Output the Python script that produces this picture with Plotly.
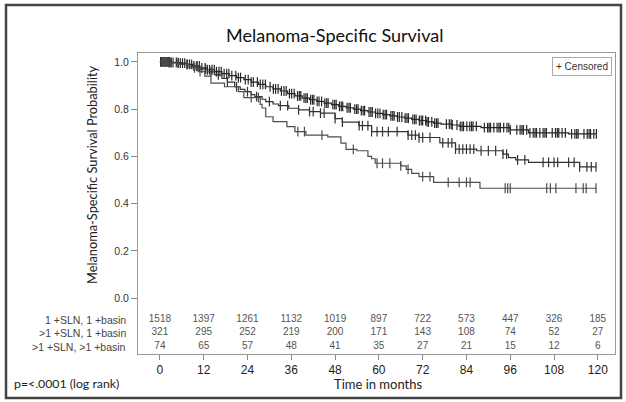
import plotly.graph_objects as go

# ---- data -------------------------------------------------------------
series_names = ["1 +SLN, 1 +basin", ">1 +SLN, 1 +basin", ">1 +SLN, >1 +basin"]

t1 = [0, 3, 5, 7, 9, 11, 13, 15, 17, 19, 21, 23, 25, 27, 29, 31, 33, 35, 37, 39, 41, 43, 45, 47, 49,
      51, 53, 55, 57, 59, 61, 63, 65, 67, 69, 71, 73, 75, 77, 80, 82, 88, 96, 101, 112, 119.6]
s1 = [1.0, 0.998, 0.995, 0.99, 0.983, 0.975, 0.967, 0.959, 0.951, 0.942, 0.934, 0.925, 0.915, 0.905,
      0.895, 0.886, 0.877, 0.866, 0.856, 0.847, 0.84, 0.833, 0.826, 0.819, 0.812, 0.806, 0.8, 0.794,
      0.788, 0.782, 0.777, 0.772, 0.767, 0.762, 0.757, 0.752, 0.746, 0.741, 0.737, 0.733, 0.727, 0.722,
      0.712, 0.7, 0.695, 0.695]

t2 = [0, 3, 6, 8, 10.5, 13, 15, 17, 18.5, 20.5, 22, 23.3, 25, 26, 28, 29, 31, 32.5, 35.3, 38, 41, 44,
      48, 50, 54.5, 58, 68, 71, 76.7, 81, 86.8, 94, 95.5, 97.5, 101, 115, 119.6]
s2 = [1.0, 0.997, 0.99, 0.982, 0.97, 0.958, 0.945, 0.93, 0.915, 0.895, 0.884, 0.874, 0.862, 0.853,
      0.842, 0.832, 0.822, 0.815, 0.804, 0.797, 0.79, 0.783, 0.76, 0.745, 0.73, 0.705, 0.69, 0.68,
      0.657, 0.631, 0.624, 0.61, 0.595, 0.585, 0.575, 0.556, 0.556]

t3 = [0, 2, 5, 8, 10.5, 12.3, 14, 17.7, 21.5, 23, 27.5, 28, 29, 31, 34.8, 37, 40, 46, 49.6, 51, 54,
      57, 58, 59, 66, 67.5, 69, 71, 75, 87.7, 119.6]
s3 = [1.0, 0.996, 0.99, 0.975, 0.959, 0.94, 0.91, 0.895, 0.874, 0.849, 0.82, 0.805, 0.768, 0.747,
      0.726, 0.705, 0.69, 0.683, 0.656, 0.63, 0.624, 0.6, 0.59, 0.571, 0.56, 0.545, 0.528, 0.514,
      0.49, 0.465, 0.465]

c1 = [0.2, 0.5, 0.8, 1.1, 1.4, 1.7, 2.0, 2.3, 2.6, 3.1, 3.6, 4.5, 5.0, 5.6, 6.2, 6.8, 7.4, 8.1, 8.7,
      9.3, 10.2, 10.8, 11.5, 12.4, 13.0, 13.6, 14.3, 14.9, 15.5, 16.2, 16.8, 17.6, 18.3, 18.9, 19.7,
      20.8, 21.5, 22.1, 23.4, 24.2, 25.0, 25.6, 26.7, 27.5, 28.2, 28.9, 30.2, 31.1, 31.7, 32.4, 33.3,
      34.0, 34.6, 35.5, 36.1, 36.8, 37.7, 38.2, 38.6, 39.5, 40.0, 40.4, 41.3, 41.8, 42.2, 43.1, 43.6,
      44.3, 45.2, 45.7, 46.1, 47.4, 47.9, 48.3, 49.2, 49.7, 50.1, 51.3, 51.8, 52.2, 53.4, 53.9, 54.3,
      55.2, 55.7, 56.1, 57.3, 57.8, 58.2, 59.1, 59.7, 60.3, 61.2, 61.7, 62.1, 63.3, 63.8, 64.2, 65.1,
      65.6, 66.3, 67.2, 67.7, 68.1, 69.3, 69.8, 70.2, 71.1, 71.6, 72.0, 72.8, 73.2, 73.6, 74.5, 75.3,
      75.8, 76.2, 78.5, 79.3, 79.8, 80.1, 81.4, 82.3, 82.8, 83.2, 84.1, 84.9, 85.4, 85.8, 86.7, 88.9,
      89.8, 90.2, 90.6, 91.5, 92.4, 92.9, 93.3, 94.2, 95.1, 95.6, 96.0, 97.8, 98.7, 99.2, 99.6, 100.5,
      101.4, 102.3, 102.8, 103.2, 104.1, 105.0, 105.5, 105.9, 107.5, 108.4, 108.9, 109.3, 110.2,
      111.1, 112.8, 113.7, 114.2, 114.6, 116.2, 117.1, 117.6, 118.0, 118.9, 119.6]
c2 = [0.5, 1.5, 3, 5, 7.5, 10, 12.5, 14, 16, 18.5, 21, 24, 26.5, 30, 33, 35, 38, 41, 42, 44, 45, 48,
      50, 54.6, 55.5, 57, 58, 59.5, 61, 62.6, 65, 68, 69, 70, 71, 72, 74, 77.5, 79, 80, 81, 82, 83, 84,
      85, 86, 88, 90, 92, 94, 95, 98, 100, 105, 106.5, 108, 109, 112, 113.5, 115, 117, 118.2, 119.5]
c3 = [0.5, 1.5, 2.5, 9.5, 11, 25, 27, 37.8, 39.6, 44.4, 53, 59.5, 61, 63, 66, 68, 72, 74, 79, 82, 84,
      85, 94.6, 95.3, 96, 106, 107, 108.5, 114, 116, 116.8, 119.5]

risk_times = [0, 12, 24, 36, 48, 60, 72, 84, 96, 108, 120]
risk1 = [1518, 1397, 1261, 1132, 1019, 897, 722, 573, 447, 326, 185]
risk2 = [321, 295, 252, 219, 200, 171, 143, 108, 74, 52, 27]
risk3 = [74, 65, 57, 48, 41, 35, 27, 21, 15, 12, 6]

y_ticks = [0.0, 0.2, 0.4, 0.6, 0.8, 1.0]
y_tick_labels = ["0.0", "0.2", "0.4", "0.6", "0.8", "1.0"]
x_ticks = risk_times
risk_rows_y = [-0.092, -0.148, -0.206]


def step_value(times, survs, t):
    v = survs[0]
    for ti, si in zip(times, survs):
        if ti <= t:
            v = si
    return v


fig = go.Figure()
curves = [(t1, s1, c1, "#262626"), (t2, s2, c2, "#333333"), (t3, s3, c3, "#4d4d4d")]
for (tt, ss, cc, col), name in zip(curves, series_names):
    fig.add_trace(go.Scatter(x=tt, y=ss, mode="lines", line=dict(shape="hv", color=col, width=1.2),
                             name=name, showlegend=False, hoverinfo="skip"))
    fig.add_trace(go.Scatter(x=cc, y=[step_value(tt, ss, c) for c in cc], mode="markers",
                             marker=dict(symbol="line-ns", size=7, line=dict(color=col, width=1.2)),
                             showlegend=False, hoverinfo="skip"))

for yy, row, name in zip(risk_rows_y, [risk1, risk2, risk3], series_names):
    fig.add_trace(go.Scatter(x=risk_times, y=[yy] * len(risk_times), mode="text",
                             text=[str(v) for v in row], textposition="middle center",
                             textfont=dict(family="Liberation Sans", size=10, color="#555555"),
                             showlegend=False, hoverinfo="skip"))
    fig.add_annotation(xref="paper", yref="y", x=-0.021, y=yy, text=name, showarrow=False,
                       xanchor="right", yanchor="middle",
                       font=dict(family="Liberation Sans", size=10.5, color="#444444"))

fig.update_layout(
    width=626, height=402,
    margin=dict(l=138, r=11, t=53, b=48),
    paper_bgcolor="white", plot_bgcolor="white",
    xaxis=dict(range=[-6, 124.7], tickvals=x_ticks, ticks="outside", ticklen=5, tickcolor="#888",
               showgrid=False, zeroline=False, showline=True, linecolor="#999", mirror=True,
               tickfont=dict(family="Liberation Sans", size=12, color="#222")),
    yaxis=dict(range=[-0.237, 1.038], tickvals=y_ticks, ticktext=y_tick_labels, ticks="outside",
               ticklen=6, tickcolor="#888", showgrid=False, zeroline=False, showline=True,
               linecolor="#999", mirror=True,
               tickfont=dict(family="Liberation Sans", size=10.5, color="#333")),
)

fig.add_annotation(xref="paper", yref="paper", x=(334 - 138) / 477, y=(354 - 35) / 301,
                   text="Melanoma-Specific Survival", showarrow=False, xanchor="center",
                   yanchor="middle", font=dict(family="Lato", size=18, color="#111"))
fig.add_annotation(xref="paper", yref="paper", x=(92 - 138) / 477, y=(354 - 175) / 301,
                   text="Melanoma-Specific Survival Probability", showarrow=False, textangle=-90,
                   xanchor="center", yanchor="middle", font=dict(family="Lato", size=12.8, color="#222"))
fig.add_annotation(xref="paper", yref="paper", x=(378 - 138) / 477, y=(354 - 384) / 301,
                   text="Time in months", showarrow=False, xanchor="center", yanchor="middle",
                   font=dict(family="Lato", size=13, color="#222"))
fig.add_annotation(xref="paper", yref="paper", x=(12 - 138) / 477, y=(354 - 383) / 301,
                   text="p=<.0001 (log rank)", showarrow=False, xanchor="left", yanchor="middle",
                   font=dict(family="Lato", size=12.3, color="#222"))
fig.add_annotation(xref="paper", yref="paper", x=(612 - 138) / 477, y=(354 - 57) / 301,
                   text="+ Censored", showarrow=False, xanchor="right", yanchor="top",
                   bordercolor="#aaa", borderwidth=1, borderpad=3, bgcolor="white",
                   font=dict(family="Liberation Sans", size=10, color="#333"))

fig.add_shape(type="rect", xref="paper", yref="paper",
              x0=(6 - 138) / 477, x1=(621 - 138) / 477, y0=(354 - 398) / 301, y1=(354 - 5) / 301,
              line=dict(color="#444", width=2.5), layer="below")

fig.write_html("out.html", config={"displayModeBar": False},
               post_script="document.body.style.margin='0';document.body.style.overflow='hidden';")
